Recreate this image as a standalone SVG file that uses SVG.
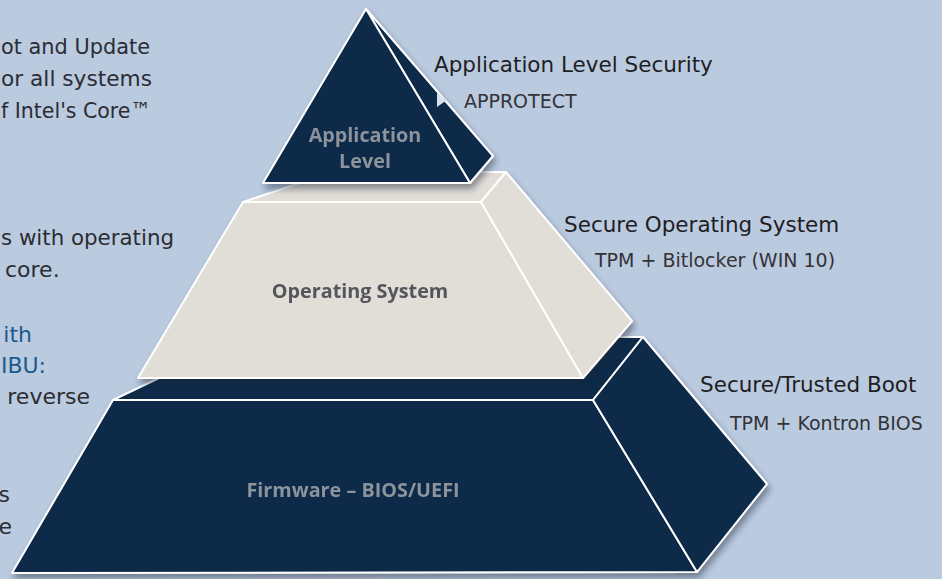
<svg xmlns="http://www.w3.org/2000/svg" width="942" height="579" viewBox="0 0 942 579">
<defs>
<filter id="sh" x="-10%" y="-10%" width="125%" height="125%">
<feDropShadow dx="2" dy="5" stdDeviation="3" flood-color="#1a2030" flood-opacity="0.45"/>
</filter>
</defs>
<style>
.navy{fill:#0B294A;stroke:#ffffff;stroke-width:2;stroke-linejoin:round}
.light{fill:#E1DDD7;stroke:#ffffff;stroke-width:2;stroke-linejoin:round}
.body{font-family:"DejaVu Sans","Liberation Sans",sans-serif;font-size:22px;fill:#2C2C33}
.blue{font-family:"DejaVu Sans","Liberation Sans",sans-serif;font-size:22px;fill:#1B5A8E}
.head{font-family:"DejaVu Sans","Liberation Sans",sans-serif;font-size:21.5px;fill:#1E1E24}
.sub{font-family:"DejaVu Sans","Liberation Sans",sans-serif;font-size:19px;fill:#333338}
.lbl{font-family:"Open Sans","Liberation Sans",sans-serif;font-weight:bold;font-size:19.8px;text-anchor:middle}
</style>
<rect width="942" height="579" fill="#BACADF"/>
<g id="left-text">
<text class="body" x="1" y="54" textLength="149" lengthAdjust="spacingAndGlyphs">ot and Update</text>
<text class="body" x="1" y="86" textLength="151" lengthAdjust="spacingAndGlyphs">or all systems</text>
<text class="body" x="1" y="118" textLength="150" lengthAdjust="spacingAndGlyphs">f Intel's Core™</text>
<text class="body" x="1" y="245" textLength="173" lengthAdjust="spacingAndGlyphs">s with operating</text>
<text class="body" x="5" y="277">core.</text>
<text class="blue" x="32" y="342" text-anchor="end">ith</text>
<text class="blue" x="46" y="373" text-anchor="end">IBU:</text>
<text class="body" x="90" y="404" text-anchor="end">reverse</text>
<text class="body" x="10" y="502" text-anchor="end">s</text>
<text class="body" x="12" y="534" text-anchor="end">e</text>
</g>
<g id="firmware" filter="url(#sh)">
<polygon class="navy" points="113,400 245,337 643,337 593,400"/>
<polygon class="navy" points="113,400 593,400 697,572 12,573"/>
<polygon class="navy" points="593,400 643,337 767,484 697,572"/>
<text class="lbl" x="353" y="497" fill="#8D939B">Firmware – BIOS/UEFI</text>
</g>
<g id="operating-system" filter="url(#sh)">
<polygon class="light" points="243,202 333,172 506,172 481,202"/>
<polygon class="light" points="243,202 481,202 583,378 138,378"/>
<polygon class="light" points="481,202 506,172 632,321 583,378"/>
<text class="lbl" x="360" y="298" fill="#55575B">Operating System</text>
</g>
<g id="application-level" filter="url(#sh)">
<polygon class="navy" points="366,9 493,156 470,183"/>
<polygon class="navy" points="366,9 470,183 263,183"/>
<text class="lbl" x="365" y="142" fill="#8D939B" font-size="18">Application</text>
<text class="lbl" x="365" y="168" fill="#8D939B" font-size="18">Level</text>
</g>
<g id="label-application">
<text class="head" x="434" y="72">Application Level Security</text>
<polygon points="437,93 437,107 447,100" fill="#D8E2EE"/>
<text class="sub" x="464" y="108" font-size="20">APPROTECT</text>
</g>
<g id="label-os">
<text class="head" x="564" y="232">Secure Operating System</text>
<text class="sub" x="595" y="267">TPM + Bitlocker (WIN 10)</text>
</g>
<g id="label-boot">
<text class="head" x="700" y="392">Secure/Trusted Boot</text>
<text class="sub" x="730" y="430">TPM + Kontron BIOS</text>
</g>
</svg>
